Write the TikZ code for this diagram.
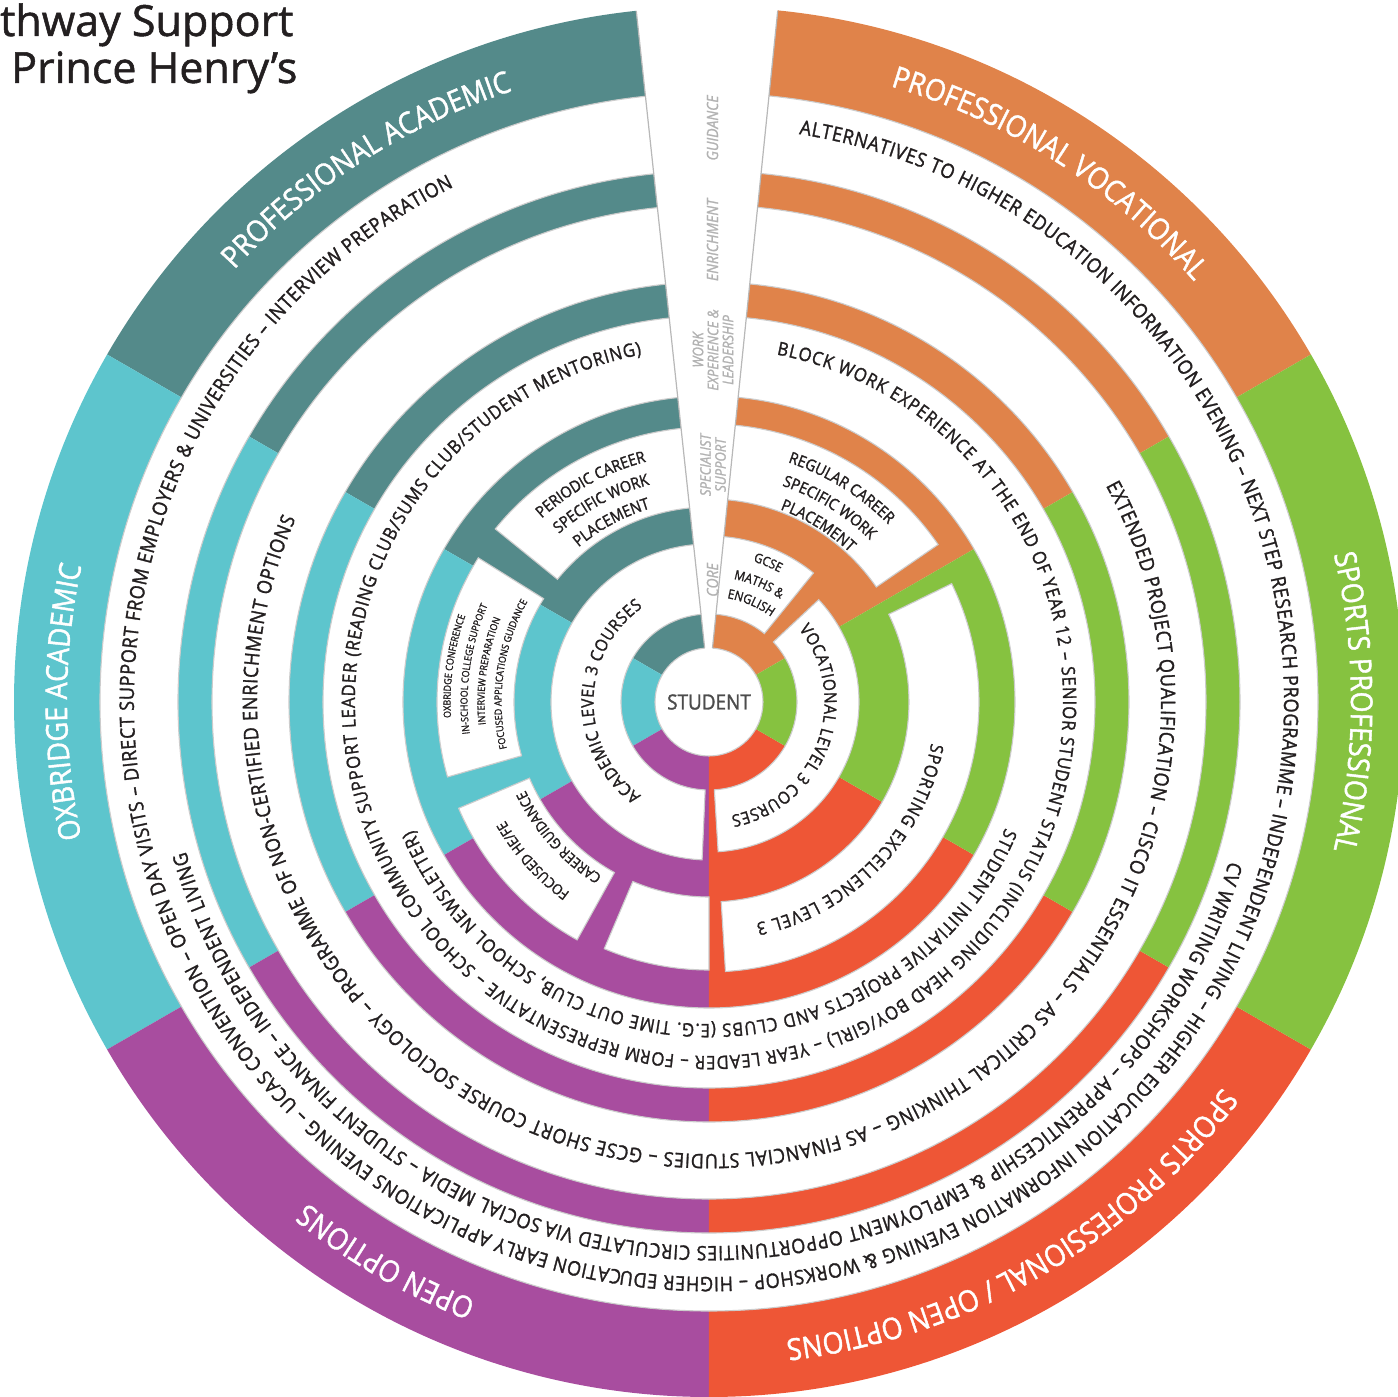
\documentclass[tikz,border=0pt]{standalone}
\usepackage{fontspec}
\setmainfont{Open Sans}[FakeStretch=0.9, FakeBold=1.4]
\newfontfamily\titlefont{Open Sans}[FakeBold=1.2]
\usetikzlibrary{decorations.text}

\definecolor{pvorange}{HTML}{E0834A}
\definecolor{pateal}{HTML}{548A8A}
\definecolor{oxcyan}{HTML}{5DC5CD}
\definecolor{oppurple}{HTML}{A84D9F}
\definecolor{spred}{HTML}{EE5636}
\definecolor{spgreen}{HTML}{86C240}
\definecolor{inktext}{HTML}{231F20}

\newcommand\bandfont{\fontsize{30}{34}\selectfont}
\newcommand\ringfont{\fontsize{20}{22}\selectfont}
\newcommand\leadfont{\fontsize{18.5}{21}\selectfont}
\newcommand\sportfont{\fontsize{18}{21}\selectfont}
\newcommand\corefont{\fontsize{17}{19}\selectfont}
\newcommand\boxfont{\fontsize{16}{18}\selectfont}
\newcommand\focusfont{\fontsize{14.5}{17}\selectfont}
\newcommand\gcsefont{\fontsize{13}{15}\selectfont}
\newcommand\oxfont{\fontsize{10}{12}\selectfont}

\begin{document}
\begin{tikzpicture}[x=1pt, y=1pt]
    \tikzstyle{ring}=[fill=white, draw=black!20, line width=1.1pt]
    \tikzstyle{band text}=[decorate, decoration={text along path, text align=center, text color=white}]
    \tikzstyle{ring text}=[decorate, decoration={text along path, text align={fit to path}, text color=inktext}]
    \tikzstyle{box text}=[decorate, decoration={text along path, text align=center, text color=inktext}]
    \tikzstyle{level label}=[rotate=90, align=center, text=black!30, inner sep=0pt, font=\itshape\fontsize{15.5}{17}\selectfont]

    \fill[white] (-709,-695) rectangle (689,702);
    \useasboundingbox (-709,-695) rectangle (689,702);

    % Draw the coloured sectors
    \foreach \a/\b/\col in {30/90/pvorange, 90/150/pateal, 150/210/oxcyan, 210/270/oppurple, 270/330/spred, 330/390/spgreen}
        \fill[\col] (0,0) -- (\a:695) arc[start angle=\a, end angle=\b, radius=695] -- cycle;

    % Cut the full white rings
    \foreach \ri/\ro in {531/609, 420/497, 306/386}
        \path[ring, even odd rule] (0,0) circle[radius=\ro] (0,0) circle[radius=\ri];

    % Cut the white boxes of the two inner levels
    \foreach \ri/\ro/\a/\b in {195/275/90/141, 195/272/148/196, 195/272/203/241, 195/268/247/270,
                               200/270/-86.5/26, 203/278/34.5/90,
                               88/158/90/267.5, 88/150/-86.5/43, 88/166/51/90}
        \path[ring] (\a:\ri) arc[start angle=\a, end angle=\b, radius=\ri]
            -- (\b:\ro) arc[start angle=\b, end angle=\a, radius=\ro] -- cycle;

    \node[circle, fill=white, draw=black!20, line width=1.1pt, minimum size=108pt, inner sep=0pt,
        text=black!70, font=\fontsize{21}{23}\selectfont] (student) at (0,0) {STUDENT};

    % The gap at the top
    \coordinate (gap-l-in) at (-4.35,54);
    \coordinate (gap-l-out) at (-72.7,691);
    \coordinate (gap-r-in) at (3.5,54);
    \coordinate (gap-r-out) at (68.7,691);
    \fill[white] (-2.85,40) -- (-75.6,718) -- (71.4,718) -- (2.09,40) -- cycle;
    \draw[black!28, line width=1.2pt] (gap-l-in) -- (gap-l-out) (gap-r-in) -- (gap-r-out);

    \node[level label] (lvl-guidance) at (3.5,574) {GUIDANCE};
    \node[level label] (lvl-enrichment) at (3.5,462) {ENRICHMENT};
    \node[level label, font=\itshape\fontsize{14.5}{15}\selectfont] (lvl-work) at (4,352) {WORK\\EXPERIENCE \&\\LEADERSHIP};
    \node[level label, font=\itshape\fontsize{14.5}{15}\selectfont] (lvl-specialist) at (4,237) {SPECIALIST\\SUPPORT};
    \node[level label] (lvl-core) at (3.5,122) {CORE};

    % Pathway names in the outer band
    \path[band text, decoration={text={|\bandfont|PROFESSIONAL VOCATIONAL}}] (84.5:642) arc[start angle=84.5, end angle=30, radius=642];
    \path[band text, decoration={text={|\bandfont|SPORTS PROFESSIONAL}}] (30:642) arc[start angle=30, end angle=-30, radius=642];
    \path[band text, decoration={text={|\bandfont|SPORTS PROFESSIONAL / OPEN OPTIONS}}] (-30:642) arc[start angle=-30, end angle=-90, radius=642];
    \path[band text, decoration={text={|\bandfont|OPEN OPTIONS}}] (270:642) arc[start angle=270, end angle=210, radius=642];
    \path[band text, decoration={text={|\bandfont|OXBRIDGE ACADEMIC}}] (210:642) arc[start angle=210, end angle=150, radius=642];
    \path[band text, decoration={text={|\bandfont|PROFESSIONAL ACADEMIC}}] (150:642) arc[start angle=150, end angle=95.5, radius=642];

    % Guidance
    \path[ring text, decoration={text={|\ringfont|ALTERNATIVES TO HIGHER EDUCATION INFORMATION EVENING – NEXT STEP RESEARCH PROGRAMME – INDEPENDENT LIVING – HIGHER EDUCATION INFORMATION EVENING {\&} WORKSHOP – HIGHER EDUCATION EARLY APPLICATIONS EVENING – UCAS CONVENTION – OPEN DAY VISITS – DIRECT SUPPORT FROM EMPLOYERS {\&} UNIVERSITIES – INTERVIEW PREPARATION}}]
        (81:575) arc[start angle=81, end angle=-243.4, radius=575];
    \path[ring text, decoration={text={|\ringfont|CV WRITING WORKSHOPS – APPRENTICESHIP {\&} EMPLOYMENT OPPORTUNITIES CIRCULATED VIA SOCIAL MEDIA – STUDENT FINANCE – INDEPENDENT LIVING}}]
        (-17:544) arc[start angle=-17, end angle=-164, radius=544];

    % Enrichment
    \path[ring text, decoration={text={|\ringfont|EXTENDED PROJECT QUALIFICATION – CISCO IT ESSENTIALS – AS CRITICAL THINKING – AS FINANCIAL STUDIES – GCSE SHORT COURSE SOCIOLOGY – PROGRAMME OF NON-CERTIFIED ENRICHMENT OPTIONS}}]
        (28.6:452) arc[start angle=28.6, end angle=-203.8, radius=452];

    % Work experience and leadership
    \path[ring text, decoration={text={|\leadfont|BLOCK WORK EXPERIENCE AT THE END OF YEAR 12 – SENIOR STUDENT STATUS (INCLUDING HEAD BOY/GIRL) – YEAR LEADER – FORM REPRESENTATIVE – SCHOOL COMMUNITY SUPPORT LEADER (READING CLUB/SUMS CLUB/STUDENT MENTORING)}}]
        (79:354) arc[start angle=79, end angle=-259, radius=354];
    \path[ring text, decoration={text={|\leadfont|STUDENT INITIATIVE PROJECTS AND CLUBS (E.G. TIME OUT CLUB, SCHOOL NEWSLETTER)}}]
        (-23:322) arc[start angle=-23, end angle=-156.6, radius=322];

    % Specialist support
    \path[box text, decoration={text={|\boxfont|PERIODIC CAREER}}] (141:248.3) arc[start angle=141, end angle=96, radius=248.3];
    \path[box text, decoration={text={|\boxfont|SPECIFIC WORK}}] (141:225.3) arc[start angle=141, end angle=96, radius=225.3];
    \path[box text, decoration={text={|\boxfont|PLACEMENT}}] (141:202.3) arc[start angle=141, end angle=96, radius=202.3];
    \path[box text, decoration={text={|\boxfont|REGULAR CAREER}}] (82:252.3) arc[start angle=82, end angle=34.5, radius=252.3];
    \path[box text, decoration={text={|\boxfont|SPECIFIC WORK}}] (82:228.3) arc[start angle=82, end angle=34.5, radius=228.3];
    \path[box text, decoration={text={|\boxfont|PLACEMENT}}] (82:205.3) arc[start angle=82, end angle=34.5, radius=205.3];
    \path[box text, decoration={text={|\oxfont|OXBRIDGE CONFERENCE}}] (196:258.4) arc[start angle=196, end angle=148, radius=258.4];
    \path[box text, decoration={text={|\oxfont|IN-SCHOOL COLLEGE SUPPORT}}] (196:241.4) arc[start angle=196, end angle=148, radius=241.4];
    \path[box text, decoration={text={|\oxfont|INTERVIEW PREPARATION}}] (196:224.4) arc[start angle=196, end angle=148, radius=224.4];
    \path[box text, decoration={text={|\oxfont|FOCUSED APPLICATIONS GUIDANCE}}] (196:207.4) arc[start angle=196, end angle=148, radius=207.4];
    \path[box text, decoration={text={|\focusfont|FOCUSED HE/FE}}] (241:235.8) arc[start angle=241, end angle=203, radius=235.8];
    \path[box text, decoration={text={|\focusfont|CAREER GUIDANCE}}] (241:203.8) arc[start angle=241, end angle=203, radius=203.8];
    \path[ring text, decoration={text={|\sportfont|SPORTING EXCELLENCE LEVEL 3}}] (-10.5:226) arc[start angle=-10.5, end angle=-78, radius=226];

    % Core
    \path[ring text, decoration={text={|\corefont|ACADEMIC LEVEL 3 COURSES}}] (234:115.5) arc[start angle=234, end angle=125, radius=115.5];
    \path[ring text, decoration={text={|\corefont|VOCATIONAL LEVEL 3 COURSES}}] (39:115.5) arc[start angle=39, end angle=-79, radius=115.5];
    \path[box text, decoration={text={|\gcsefont|GCSE}}] (83:147.4) arc[start angle=83, end angle=51, radius=147.4];
    \path[box text, decoration={text={|\gcsefont|MATHS {\&}}}] (83:125.4) arc[start angle=83, end angle=51, radius=125.4];
    \path[box text, decoration={text={|\gcsefont|ENGLISH}}] (83:105.4) arc[start angle=83, end angle=51, radius=105.4];

    % Title
    \node[anchor=base west, inner sep=0pt, text=inktext, font=\titlefont\fontsize{43}{48}\selectfont] (title-1) at (-709,666) {thway Support};
    \node[anchor=base west, inner sep=0pt, text=inktext, font=\titlefont\fontsize{43}{48}\selectfont] (title-2) at (-698,619) {Prince Henry’s};
\end{tikzpicture}
\end{document}
